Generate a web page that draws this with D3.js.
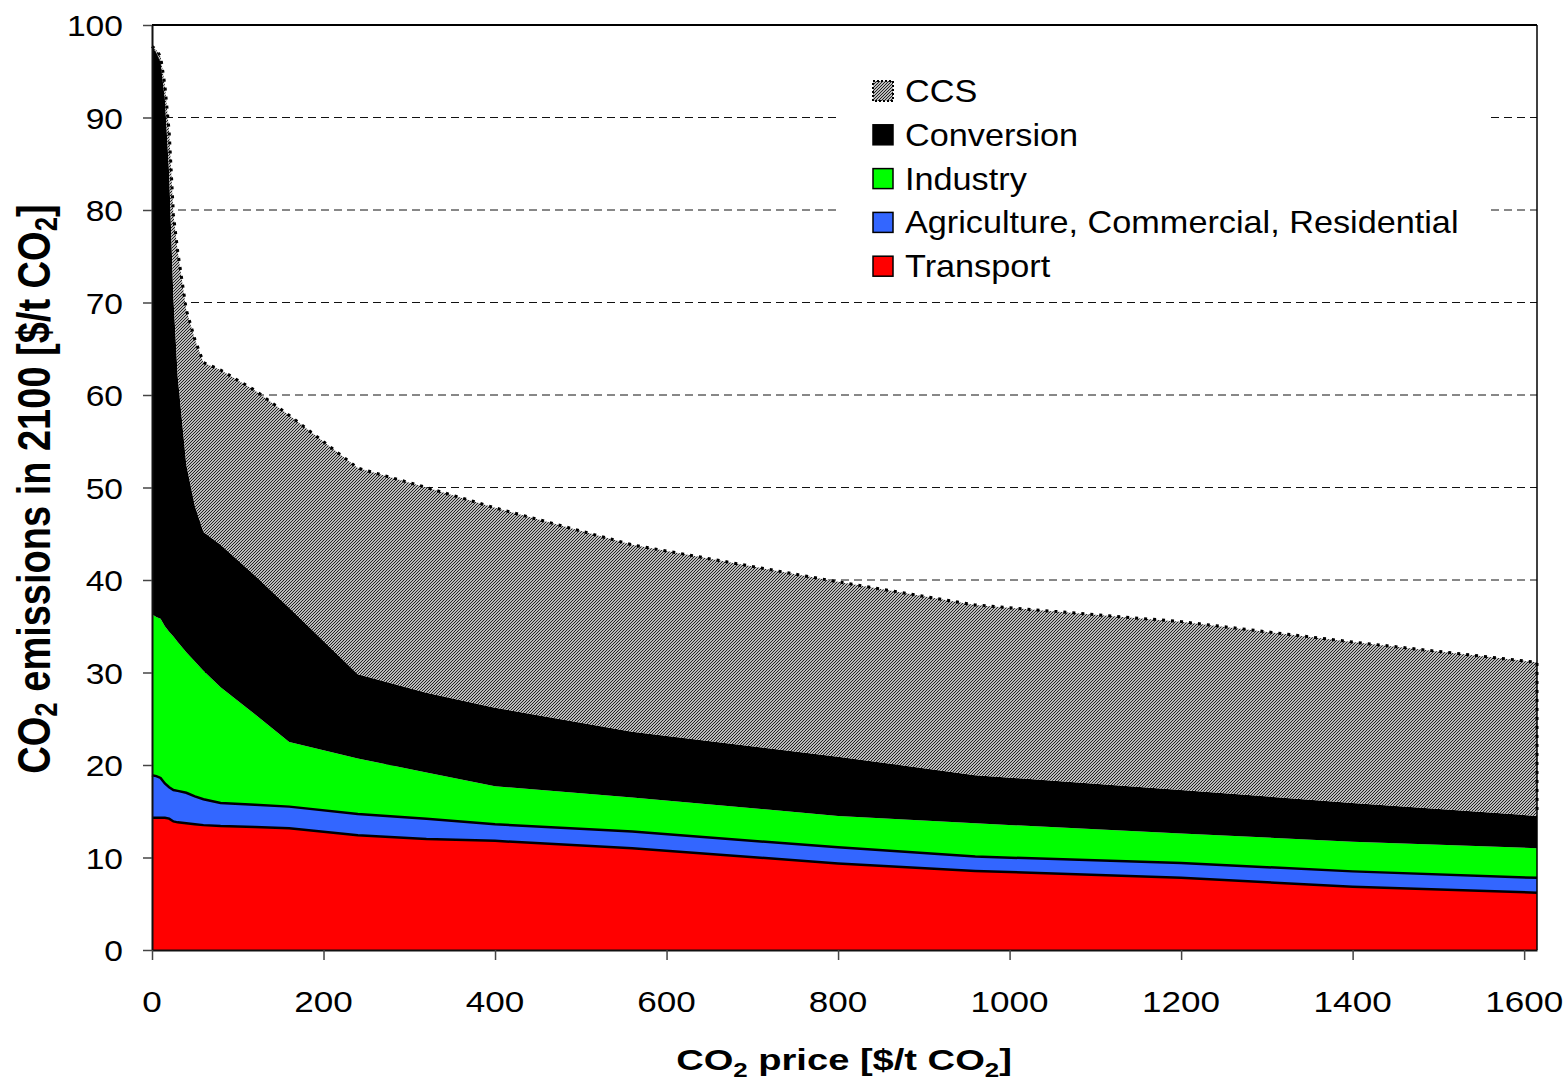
<!DOCTYPE html>
<html>
<head>
<meta charset="utf-8">
<script src="https://cdn.jsdelivr.net/npm/d3@7"></script>
<style>
  body { margin: 0; background: #fff; }
  svg { display: block; font-family: "Liberation Sans", Arial, sans-serif; }
</style>
</head>
<body>
<svg width="1566" height="1082"></svg>
<script>
// CO2 price points [$/t CO2]
var prices = [0, 5, 10, 15, 20, 25, 30, 40, 50, 60, 80, 120, 160, 240, 320, 400, 560, 800, 960, 1200, 1400, 1615];

// emissions per sector (not cumulative)
var transport   = [14.3, 14.3, 14.3, 14.3, 14.2, 13.9, 13.8, 13.7, 13.6, 13.5, 13.4, 13.3, 13.15, 12.4, 12.0, 11.8, 11.0, 9.35, 8.55, 7.8, 6.85, 6.2];
var agriculture = [4.6, 4.5, 4.3, 3.7, 3.4, 3.4, 3.4, 3.3, 3.0, 2.8, 2.5, 2.4, 2.35, 2.3, 2.2, 1.8, 1.8, 1.75, 1.55, 1.6, 1.65, 1.6];
var industry    = [17.4, 17.2, 17.2, 17.0, 16.8, 16.6, 16.1, 15.2, 14.6, 13.9, 12.5, 9.8, 7.0, 6.0, 5.0, 4.1, 3.7, 3.4, 3.6, 3.2, 3.2, 3.2];
var conversion  = [61.4, 61.0, 60.2, 57.0, 49.6, 36.6, 28.7, 20.3, 16.8, 15.0, 15.4, 15.0, 14.5, 9.1, 8.6, 8.5, 7.1, 6.4, 5.2, 4.7, 4.2, 3.5];
var ccs         = [0, 0.3, 0.6, 1.5, 4.5, 9.0, 13.5, 16.7, 18.0, 18.3, 18.9, 20.0, 20.8, 22.3, 22.2, 21.6, 20.2, 18.9, 18.4, 18.2, 17.4, 16.6];

var keys = ["transport", "agriculture", "industry", "conversion", "ccs"];
var labels = ["Transport", "Agriculture, Commercial, Residential", "Industry", "Conversion", "CCS"];
var colors = ["#ff0000", "#3366ff", "#00ff00", "#000000", "url(#hatch)"];

var xTicks = [0, 200, 400, 600, 800, 1000, 1200, 1400, 1600];
var yTicks = [0, 10, 20, 30, 40, 50, 60, 70, 80, 90, 100];

var rows = prices.map(function(p, i) {
  return { price: p, transport: transport[i], agriculture: agriculture[i],
           industry: industry[i], conversion: conversion[i], ccs: ccs[i] };
});

var svg = d3.select("svg");
var plotL = 152, plotR = 1537, plotT = 25, plotB = 950;

var x = d3.scaleLinear().domain([0, 1615]).range([plotL, plotR]);
var y = d3.scaleLinear().domain([0, 100]).range([plotB, plotT]);

// hatch pattern for CCS
var pat = svg.append("defs").append("pattern")
  .attr("id", "hatch")
  .attr("patternUnits", "userSpaceOnUse")
  .attr("width", 3).attr("height", 3);
pat.append("rect").attr("width", 3).attr("height", 3).attr("fill", "#fff");
pat.append("path")
  .attr("d", "M-1,1 L1,-1 M0,3 L3,0 M2,4 L4,2")
  .attr("stroke", "#1a1a1a").attr("stroke-width", 1.15);

// gridlines
svg.append("g").selectAll("line")
  .data(yTicks.filter(function(t) { return t > 0 && t < 100; }))
  .enter().append("line")
  .attr("x1", plotL).attr("x2", plotR)
  .attr("y1", function(d) { return y(d); })
  .attr("y2", function(d) { return y(d); })
  .attr("stroke", "#111").attr("stroke-width", 1)
  .attr("stroke-dasharray", "8,5");

var stack = d3.stack().keys(keys);
var layers = stack(rows);

var area = d3.area()
  .x(function(d) { return x(d.data.price); })
  .y0(function(d) { return y(d[0]); })
  .y1(function(d) { return y(d[1]); });

svg.append("g").selectAll("path")
  .data(layers)
  .enter().append("path")
  .attr("d", area)
  .attr("fill", function(d, i) { return colors[i]; });

var topLine = d3.line()
  .x(function(d) { return x(d[0]); })
  .y(function(d) { return y(d[1]); });

// solid outlines on transport and agriculture tops
[0, 1].forEach(function(i) {
  svg.append("path")
    .attr("d", topLine(layers[i].map(function(d) { return [d.data.price, d[1]]; })))
    .attr("fill", "none").attr("stroke", "#000").attr("stroke-width", 2.5);
});

// dotted outline on CCS top and right edge
var ccsLayer = layers[4];
var last = ccsLayer[ccsLayer.length - 1];
var ccsPts = ccsLayer.map(function(d) { return [d.data.price, d[1]]; })
  .concat([[last.data.price, last[0]]]);
svg.append("path")
  .attr("d", topLine(ccsPts))
  .attr("fill", "none").attr("stroke", "#000")
  .attr("stroke-width", 3).attr("stroke-dasharray", "3,6");

// frame
svg.append("line").attr("x1", plotL).attr("x2", plotR).attr("y1", plotT).attr("y2", plotT)
  .attr("stroke", "#000").attr("stroke-width", 2);
svg.append("line").attr("x1", plotR).attr("x2", plotR).attr("y1", plotT).attr("y2", plotB)
  .attr("stroke", "#000").attr("stroke-width", 1.5);

// axes
var yAxis = svg.append("g")
  .attr("transform", "translate(" + plotL + ",0)")
  .call(d3.axisLeft(y).tickValues(yTicks).tickSize(9).tickSizeOuter(0).tickFormat(""));
var xAxis = svg.append("g")
  .attr("transform", "translate(0," + plotB + ")")
  .call(d3.axisBottom(x).tickValues(xTicks).tickSize(10).tickSizeOuter(0).tickFormat(""));
[yAxis, xAxis].forEach(function(a) {
  a.select(".domain").attr("stroke", "#111").attr("stroke-width", 2);
  a.selectAll(".tick line").attr("stroke", "#444").attr("stroke-width", 1.5);
});

// tick labels (the original is drawn horizontally stretched)
svg.append("g").selectAll("text")
  .data(yTicks).enter().append("text")
  .attr("transform", function(d) { return "translate(123," + (y(d) + 11) + ") scale(1.12,1)"; })
  .attr("text-anchor", "end")
  .attr("font-size", 30)
  .text(function(d) { return d; });

svg.append("g").selectAll("text")
  .data(xTicks).enter().append("text")
  .attr("transform", function(d) { return "translate(" + x(d) + ",1012) scale(1.17,1)"; })
  .attr("text-anchor", "middle")
  .attr("font-size", 30)
  .text(function(d) { return d; });

// axis titles
var xt = svg.append("text")
  .attr("transform", "translate(844,1070) scale(1.27,1)")
  .attr("text-anchor", "middle")
  .attr("font-size", 30).attr("font-weight", "bold");
xt.append("tspan").text("CO");
xt.append("tspan").attr("font-size", "0.68em").attr("dy", 7).text("2");
xt.append("tspan").attr("dy", -7).text(" price [$/t CO");
xt.append("tspan").attr("font-size", "0.68em").attr("dy", 7).text("2");
xt.append("tspan").attr("dy", -7).text("]");

var yt = svg.append("text")
  .attr("transform", "translate(50,489) rotate(-90) scale(1,1.2)")
  .attr("text-anchor", "middle")
  .attr("font-size", 38).attr("font-weight", "bold");
yt.append("tspan").text("CO");
yt.append("tspan").attr("font-size", "0.68em").attr("dy", 6).text("2");
yt.append("tspan").attr("dy", -6).text(" emissions in 2100 [$/t CO");
yt.append("tspan").attr("font-size", "0.68em").attr("dy", 6).text("2");
yt.append("tspan").attr("dy", -6).text("]");

// legend
svg.append("rect")
  .attr("x", 838).attr("y", 62).attr("width", 652).attr("height", 228)
  .attr("fill", "#fff");

var legendOrder = [4, 3, 2, 1, 0];
var legend = svg.append("g").selectAll("g")
  .data(legendOrder).enter().append("g")
  .attr("transform", function(d, i) { return "translate(873," + (91 + i * 43.8) + ")"; });

legend.append("rect")
  .attr("x", 0).attr("y", -10).attr("width", 20).attr("height", 20)
  .attr("fill", function(d) { return colors[d]; })
  .attr("stroke", "#000")
  .attr("stroke-width", function(d) { return d === 4 ? 2 : 1.5; })
  .attr("stroke-dasharray", function(d) { return d === 4 ? "2,2" : null; });

legend.append("text")
  .attr("transform", "translate(32,11) scale(1.07,1)")
  .attr("font-size", 32)
  .text(function(d) { return labels[d]; });
</script>
</body>
</html>
